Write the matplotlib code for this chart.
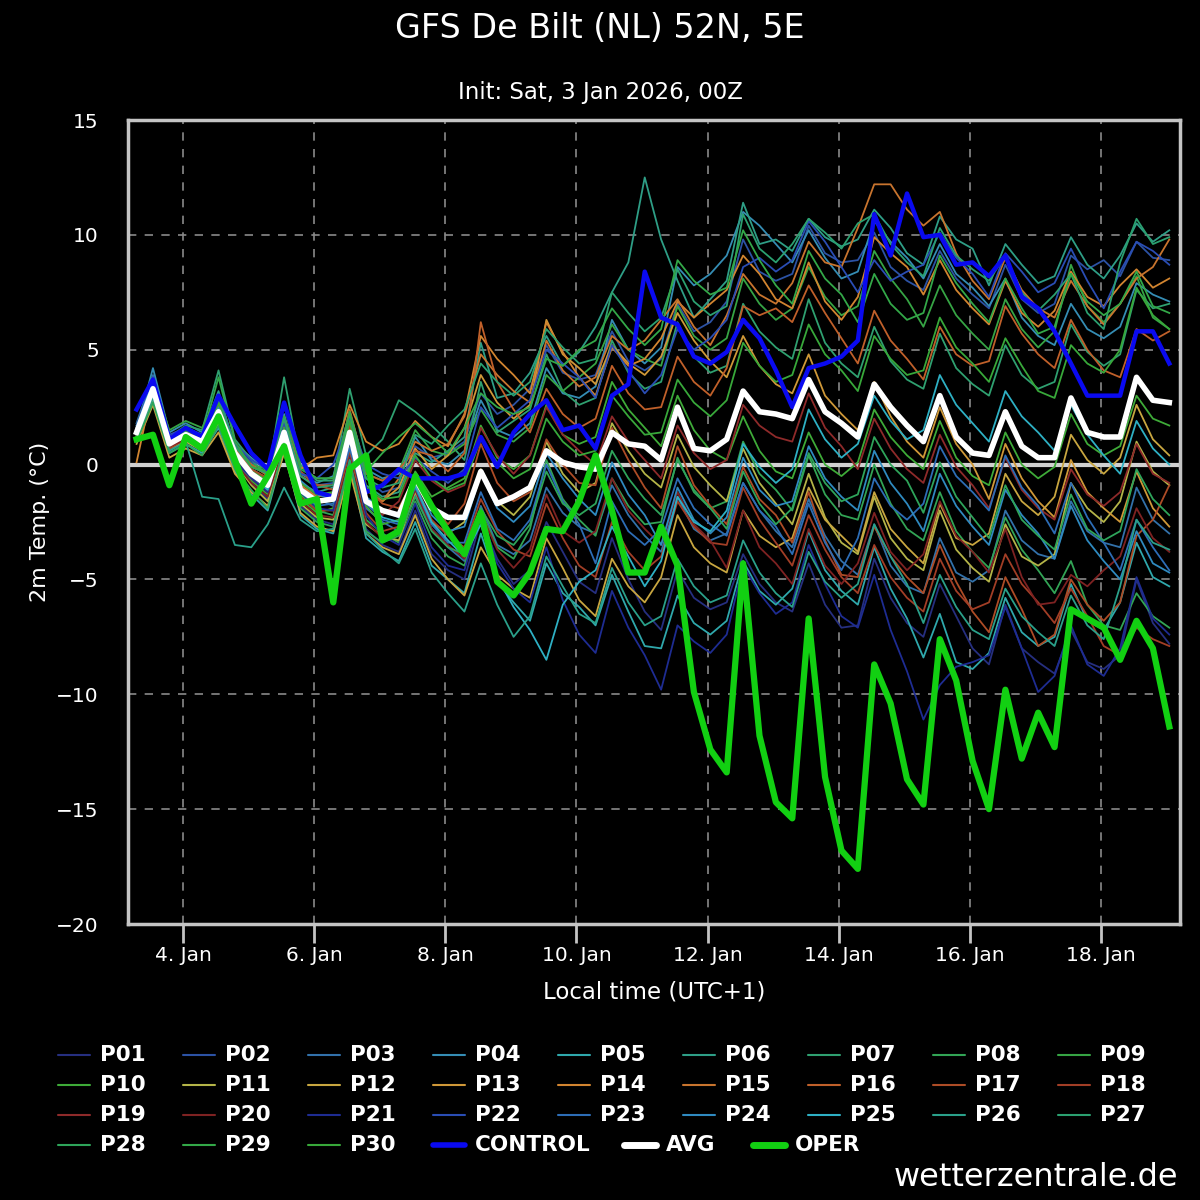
import datetime as dt
import pandas as pd
import matplotlib
matplotlib.use('Agg')
import matplotlib.pyplot as plt
from matplotlib.lines import Line2D
from matplotlib.ticker import FuncFormatter
import matplotlib.dates as mdates

# 6-hourly steps, local time (UTC+1), init Sat 3 Jan 2026 00Z
times = pd.date_range('2026-01-03 07:00', periods=64, freq='6h').to_pydatetime()

avg = [1.4, 3.3, 0.9, 1.3, 1.0, 2.3, 0.5, -0.4, -0.9, 1.4, -1.1, -1.6, -1.5, 1.4, -1.6, -2.0,
       -2.2, -0.6, -1.9, -2.3, -2.3, -0.3, -1.7, -1.4, -1.0, 0.6, 0.1, -0.1, -0.2, 1.4, 0.9, 0.8,
       0.2, 2.5, 0.7, 0.6, 1.1, 3.2, 2.3, 2.2, 2.0, 3.7, 2.3, 1.8, 1.2, 3.5, 2.5, 1.7,
       1.0, 3.0, 1.2, 0.5, 0.4, 2.3, 0.8, 0.3, 0.3, 2.9, 1.4, 1.2, 1.2, 3.8, 2.8, 2.7]

control = [2.4, 3.7, 1.1, 1.6, 1.2, 3.0, 1.7, 0.5, -0.2, 2.7, 0.4, -1.2, -1.4, 1.3, -1.2, -0.9,
           -0.2, -0.6, -0.6, -0.6, -0.4, 1.2, -0.1, 1.4, 2.2, 2.8, 1.5, 1.7, 0.7, 3.0, 3.5, 8.4,
           6.4, 6.1, 4.7, 4.4, 4.9, 6.3, 5.5, 4.1, 2.5, 4.2, 4.4, 4.7, 5.4, 10.9, 9.1, 11.8,
           9.9, 10.0, 8.7, 8.8, 8.2, 9.1, 7.3, 6.8, 5.8, 4.4, 3.0, 3.0, 3.0, 5.8, 5.8, 4.4]

oper = [1.1, 1.3, -0.9, 1.2, 0.7, 2.1, 0.2, -1.7, -0.5, 0.8, -1.7, -1.5, -6.0, -0.2, 0.4, -3.3,
        -2.9, -0.5, -1.8, -2.9, -3.9, -2.1, -5.1, -5.7, -4.7, -2.8, -2.9, -1.6, 0.4, -2.0, -4.7, -4.7,
        -2.7, -4.4, -9.9, -12.4, -13.4, -4.3, -11.8, -14.7, -15.4, -6.7, -13.6, -16.8, -17.6, -8.7, -10.4, -13.7,
        -14.8, -7.6, -9.4, -12.9, -15.0, -9.8, -12.8, -10.8, -12.3, -6.3, -6.7, -7.1, -8.5, -6.8, -8.0, -11.4]

p01 = [1.2, 3.0, 0.6, 1.0, 0.8, 2.0, 0.2, -0.8, -1.5, 0.8, -1.8, -2.4, -2.6, 0.4, -2.8, -3.5,
       -3.8, -2.0, -3.9, -4.6, -5.0, -2.4, -4.1, -5.2, -4.6, -2.5, -3.8, -5.1, -5.6, -3.2, -5.0, -6.4,
       -7.2, -4.6, -5.8, -6.3, -6.0, -3.9, -5.2, -6.0, -6.4, -4.3, -6.1, -7.1, -7.0, -4.1, -5.8, -6.9,
       -7.5, -5.2, -6.6, -8.0, -8.7, -6.1, -8.0, -8.6, -9.1, -7.2, -8.6, -8.9, -8.3, -5.0, -6.9, -7.8]
p02 = [1.6, 3.6, 1.2, 1.5, 1.2, 2.6, 0.8, 0.1, -0.4, 2.0, -0.3, -0.9, -0.8, 1.8, -0.6, -1.2,
       -1.0, 0.8, 0.3, 0.5, 1.0, 3.1, 2.2, 2.6, 3.3, 5.2, 4.0, 3.7, 3.9, 5.8, 4.5, 4.1,
       4.6, 7.0, 5.8, 6.2, 7.1, 9.8, 8.4, 8.0, 8.3, 10.4, 9.2, 8.8, 8.9, 10.1, 8.6, 8.0,
       7.6, 9.3, 8.1, 7.4, 6.8, 8.7, 7.2, 6.6, 7.0, 9.1, 8.5, 8.9, 8.2, 9.7, 9.0, 8.9]
p03 = [1.8, 3.9, 1.0, 1.4, 1.1, 2.1, 0.0, -0.6, -1.1, 1.5, -0.9, -1.5, -1.8, 1.0, -1.9, -2.5,
       -2.9, -1.3, -2.8, -3.6, -4.2, -1.8, -3.5, -3.9, -3.3, -1.0, -2.1, -2.7, -3.0, -0.9, -2.2, -3.1,
       -3.8, -1.4, -2.8, -3.3, -3.0, -0.8, -2.0, -2.9, -3.6, -1.5, -3.1, -4.2, -4.8, -2.6, -4.4, -5.3,
       -5.6, -3.2, -4.7, -5.1, -4.6, -2.0, -3.3, -3.9, -4.1, -1.6, -2.9, -3.4, -3.6, -1.0, -2.4, -3.0]
p04 = [1.5, 4.2, 1.4, 1.8, 1.4, 2.8, 0.9, 0.3, -0.3, 2.2, -0.4, -0.8, -0.5, 2.3, -0.2, -0.6,
       -0.4, 1.2, 0.2, 0.0, 0.6, 2.8, 1.5, 1.2, 1.8, 4.2, 3.1, 2.9, 3.4, 6.3, 5.0, 4.4,
       5.1, 8.6, 7.8, 8.3, 9.1, 11.0, 10.4, 9.6, 8.8, 10.2, 9.0, 8.1, 8.4, 10.6, 9.7, 9.0,
       8.1, 9.6, 8.3, 7.7, 6.9, 8.1, 6.4, 5.6, 5.2, 7.0, 5.9, 5.5, 6.0, 7.9, 7.4, 7.1]
p05 = [1.0, 2.8, 0.5, 0.9, 0.5, 1.6, -0.3, -1.3, -2.0, 0.6, -2.2, -2.8, -3.0, 0.0, -3.2, -3.8,
       -4.2, -2.5, -4.4, -5.0, -5.6, -3.0, -5.1, -6.0, -6.8, -4.3, -5.6, -6.2, -7.0, -4.8, -6.4, -7.9,
       -8.0, -5.7, -6.9, -7.4, -6.8, -4.2, -5.5, -6.1, -5.4, -2.9, -4.6, -5.5, -6.1, -3.6, -5.4, -6.7,
       -8.4, -6.5, -8.6, -8.9, -8.2, -5.8, -7.3, -7.9, -7.5, -5.2, -6.8, -7.2, -6.0, -3.4, -4.9, -5.3]
p06 = [1.3, 3.4, 1.1, 1.6, 1.3, 3.2, 0.7, -0.2, -0.6, 1.9, -0.8, -1.2, -1.0, 2.0, -0.9, -1.4,
       -1.2, 0.5, 0.1, 0.6, 1.2, 5.3, 2.9, 3.1, 4.0, 5.6, 4.3, 4.9, 6.0, 7.5, 8.8, 12.5,
       9.8, 8.0, 6.4, 7.2, 8.0, 11.4, 9.6, 9.8, 9.3, 10.7, 9.9, 9.5, 9.8, 11.1, 10.3, 9.2,
       8.7, 10.8, 9.8, 9.4, 7.8, 9.6, 8.7, 7.9, 8.2, 9.9, 8.7, 8.1, 9.1, 10.5, 9.7, 10.2]
p07 = [1.4, 3.5, 1.2, 1.7, 1.5, 4.1, 1.1, 0.2, -0.5, 3.8, 0.0, -0.7, -0.7, 3.3, 0.4, 1.1,
       2.8, 2.3, 1.7, 1.0, 0.2, 3.6, 1.4, 1.9, 2.4, 4.8, 3.2, 2.6, 2.9, 5.4, 4.0, 3.3,
       3.6, 6.2, 4.7, 4.0, 4.3, 7.0, 5.8, 5.1, 4.6, 7.2, 5.3, 4.4, 3.8, 6.0, 4.5, 3.7,
       3.3, 5.7, 4.2, 3.5, 3.0, 5.2, 3.9, 3.3, 3.6, 6.1, 4.9, 4.3, 4.8, 7.6, 6.8, 7.0]
p08 = [1.1, 3.1, 0.8, 1.1, 0.7, 2.2, 0.3, -0.5, -1.0, 1.2, -1.3, -2.0, -2.2, 0.8, -2.4, -3.0,
       -3.4, -1.6, -3.2, -4.0, -4.4, -2.0, -3.6, -4.1, -2.8, 0.2, -1.5, -2.4, -3.1, -0.6, -1.8, -2.6,
       -2.5, 0.3, -1.2, -1.9, -1.6, 1.0, -0.4, -1.1, -2.0, 0.4, -1.3, -2.2, -2.4, 0.0, -1.7, -2.8,
       -3.3, -1.2, -2.9, -3.8, -4.5, -2.3, -3.7, -4.6, -5.6, -4.2, -6.1, -7.0, -7.2, -5.6, -6.6, -7.1]
p09 = [1.7, 3.7, 1.5, 1.9, 1.6, 3.0, 0.8, 0.0, -0.2, 2.1, -0.1, -0.6, -0.6, 1.9, -0.4, -0.7,
       -0.3, 1.5, 0.6, 0.4, 0.9, 2.4, 1.3, 1.0, 1.6, 3.9, 3.2, 3.8, 4.4, 6.1, 5.0, 4.6,
       4.3, 6.9, 5.6, 5.0, 5.5, 8.1, 7.0, 6.3, 6.8, 8.6, 7.3, 6.5, 6.9, 9.3, 8.1, 7.2,
       6.0, 7.8, 6.5, 5.7, 5.0, 7.2, 5.9, 5.1, 5.8, 8.7, 6.9, 6.2, 7.0, 8.2, 6.4, 5.9]
p10 = [1.2, 3.2, 0.9, 1.3, 0.9, 2.4, 0.4, -0.7, -1.3, 1.1, -1.5, -2.1, -1.9, 0.9, -1.8, -2.6,
       -2.4, -0.3, -1.4, -1.0, -0.6, 1.7, 0.3, -0.2, 0.4, 2.6, 1.3, 0.9, 1.2, 3.6, 2.4, 1.6,
       0.8, 3.0, 1.5, 0.6, 0.2, 2.1, 0.6, -0.3, -0.6, 1.4, 0.0, -0.5, 0.1, 2.4, 1.2, 0.4,
       -0.2, 1.9, 0.3, -0.5, -0.9, 1.4, 0.0, -0.6, -0.1, 2.2, 0.9, 0.4, 0.8, 3.0, 2.0, 1.7]
p11 = [1.0, 2.9, 0.7, 1.0, 0.6, 1.8, 0.1, -0.9, -1.6, 0.9, -1.7, -2.3, -2.4, 0.7, -2.6, -3.1,
       -3.3, -1.2, -2.5, -3.0, -2.5, -0.2, -1.6, -2.2, -1.4, 1.0, -0.4, -1.2, -0.8, 1.8, 0.6, -0.4,
       -1.0, 1.3, -0.1, -0.9, -1.6, 0.7, -0.8, -1.7, -2.6, -0.4, -2.3, -3.4, -3.9, -1.4, -3.2, -4.1,
       -4.6, -2.0, -3.7, -4.5, -5.1, -2.6, -4.0, -4.4, -3.9, -0.8, -1.9, -2.5, -1.6, 1.0, -0.3, -0.9]
p12 = [0.9, 2.6, 0.3, 0.7, 0.4, 1.4, -0.4, -1.2, -1.8, 0.5, -2.1, -2.7, -2.9, -0.3, -3.0, -3.6,
       -3.9, -2.2, -4.1, -5.0, -5.7, -3.6, -4.8, -5.4, -5.8, -3.2, -4.5, -5.9, -6.6, -4.1, -5.3, -6.0,
       -4.9, -2.2, -3.6, -4.3, -4.7, -2.0, -3.1, -3.6, -3.2, -1.0, -2.4, -3.1, -3.8, -1.2, -2.8, -3.6,
       -4.3, -1.7, -3.2, -3.5, -3.0, -0.4, -1.6, -2.2, -1.4, 1.3, 0.2, -0.4, 0.3, 2.6, 1.1, 0.4]
p13 = [1.3, 3.3, 0.9, 1.2, 0.9, 2.2, 0.4, -0.3, -0.7, 1.6, -0.9, -1.4, -1.2, 1.7, -1.1, -1.6,
       -1.0, 0.7, -0.2, 0.4, 1.6, 3.9, 2.7, 2.0, 2.6, 6.3, 4.8, 4.2, 3.5, 5.2, 4.4, 3.9,
       4.7, 6.6, 5.4, 4.5, 3.8, 5.6, 4.3, 3.5, 3.1, 4.8, 3.0, 2.2, 1.5, 3.6, 2.1, 1.0,
       0.3, 2.5, 0.9, 0.0, -1.5, 0.9, -0.6, -1.6, -2.3, 0.2, -1.2, -1.9, -2.5, -0.3, -1.9, -2.7]
p14 = [0.1, 3.4, 1.0, 1.4, 1.1, 2.7, 0.6, -0.1, -0.4, 1.8, -0.2, 0.3, 0.4, 2.6, 1.0, 0.6,
       0.9, 1.9, 1.2, 0.8, 2.2, 5.6, 4.6, 3.9, 3.1, 6.2, 4.9, 3.8, 3.0, 5.1, 4.3, 4.6,
       5.5, 7.1, 6.4, 7.0, 7.6, 9.1, 8.3, 7.2, 6.8, 8.8, 7.1, 6.3, 7.3, 9.9, 9.2, 8.6,
       7.4, 8.9, 7.6, 6.8, 6.1, 8.0, 6.6, 6.0, 6.7, 8.4, 7.3, 6.9, 7.8, 8.5, 7.7, 8.1]
p15 = [1.2, 3.1, 0.9, 1.2, 0.9, 2.3, 0.5, -0.3, -0.8, 1.5, -0.9, -1.4, -1.3, 1.4, -1.1, -1.6,
       -0.6, 1.0, 0.6, 0.9, 2.1, 4.8, 3.9, 3.2, 2.7, 5.4, 4.1, 3.4, 3.8, 5.6, 5.0, 5.4,
       6.3, 7.2, 6.0, 5.2, 6.5, 8.3, 7.4, 7.0, 7.9, 9.7, 8.8, 8.6, 10.3, 12.2, 12.2, 11.1,
       10.4, 11.0, 9.2, 8.0, 7.2, 9.0, 7.6, 6.8, 6.4, 8.0, 6.9, 6.1, 7.0, 8.1, 8.6, 9.8]
p16 = [1.5, 3.6, 1.2, 1.5, 1.2, 2.5, 0.7, 0.0, -0.5, 1.9, -0.5, -0.9, -0.9, 2.4, -0.4, -0.7,
       -0.2, 0.6, 0.4, -0.3, 0.5, 6.2, 3.6, 2.4, 1.4, 3.3, 2.2, 1.6, 2.0, 4.3, 3.1, 2.4,
       2.5, 4.7, 3.6, 3.0, 4.2, 6.9, 6.5, 6.8, 6.2, 7.8, 6.6, 5.5, 4.4, 6.7, 5.4, 4.6,
       3.7, 6.0, 4.8, 4.3, 4.5, 6.9, 5.7, 4.8, 4.2, 6.3, 5.0, 4.1, 3.8, 5.9, 5.4, 5.8]
p17 = [1.6, 3.5, 1.1, 1.4, 1.2, 2.6, 0.6, -0.2, -0.6, 2.7, -0.3, -0.9, -1.1, 1.7, -1.0, -1.7,
       -1.9, -0.5, -1.8, -2.6, -1.7, 0.9, -0.8, -1.6, -1.2, 1.1, 0.0, -0.8, -0.9, 1.6, 0.2, -1.0,
       -1.9, 0.8, -0.9, -1.8, -2.6, -0.1, -1.5, -2.2, -3.4, -1.2, -3.3, -4.8, -4.9, -2.7, -4.0, -4.9,
       -5.6, -3.5, -5.1, -6.4, -7.3, -4.9, -6.3, -7.9, -7.4, -5.0, -6.1, -6.8, -6.0, -3.1, -2.4, -0.9]
p18 = [1.1, 3.0, 0.7, 1.1, 0.7, 2.1, 0.2, -0.6, -1.2, 1.0, -1.4, -2.0, -2.0, 0.6, -2.1, -2.9,
       -2.7, -0.9, -2.4, -3.1, -3.6, -1.5, -2.9, -3.7, -4.0, -1.7, -3.2, -4.4, -4.9, -2.5, -3.8, -4.6,
       -4.0, -1.6, -2.7, -3.4, -3.5, -1.0, -2.4, -3.4, -4.4, -2.2, -3.7, -4.9, -5.6, -3.5, -4.9, -5.8,
       -6.4, -4.1, -5.5, -6.3, -6.0, -3.9, -5.2, -6.0, -6.9, -5.4, -6.6, -7.9, -8.3, -7.1, -7.6, -7.9]
p19 = [1.3, 3.2, 0.8, 1.2, 0.8, 2.4, 0.3, -0.4, -0.8, 1.3, -0.8, -1.3, -1.4, 1.2, -1.5, -2.2,
       -1.6, 0.2, -0.7, -1.2, -0.9, 1.6, 0.4, -0.4, 0.4, 2.5, 1.3, 0.6, 0.0, 2.1, 1.0, 0.2,
       -0.6, 1.7, 0.5, -0.2, 0.2, 2.6, 1.7, 1.2, 1.0, 3.1, 1.6, 0.8, -0.2, 2.0, 0.7, -0.2,
       -0.8, 1.3, -0.1, -0.9, -1.9, 0.3, -1.1, -1.9, -2.4, -0.2, -1.3, -1.8, -1.2, 0.9, -0.4, -0.8]
p20 = [1.2, 3.1, 0.8, 1.1, 0.8, 2.0, 0.1, -0.8, -1.4, 0.9, -1.6, -2.2, -2.3, 0.3, -2.5, -3.2,
       -3.0, -1.1, -2.8, -3.5, -4.1, -2.1, -3.7, -4.5, -3.7, -1.3, -2.9, -3.4, -2.9, -0.6, -2.0, -2.8,
       -3.5, -1.2, -2.6, -3.3, -4.5, -2.0, -3.6, -4.3, -5.2, -2.8, -4.4, -5.2, -4.3, -2.1, -3.8, -4.6,
       -3.9, -1.6, -3.1, -3.8, -4.7, -2.8, -4.9, -6.1, -6.0, -4.8, -5.3, -4.6, -4.0, -1.9, -3.2, -3.8]
p21 = [1.4, 3.4, 1.0, 1.3, 0.9, 2.1, 0.2, -0.6, -1.2, 1.3, -1.2, -1.9, -2.0, 1.0, -2.2, -3.1,
       -3.5, -1.7, -3.6, -4.4, -4.6, -2.1, -4.3, -5.4, -6.0, -3.6, -5.9, -7.4, -8.2, -5.5, -7.1, -8.3,
       -9.8, -7.0, -7.7, -8.2, -7.4, -4.4, -5.6, -6.5, -6.0, -3.5, -5.2, -6.6, -7.1, -4.8, -7.2, -9.0,
       -11.1, -9.6, -8.8, -8.6, -8.3, -6.2, -8.0, -9.9, -9.2, -7.0, -8.7, -9.2, -8.0, -4.9, -6.7, -7.4]
p22 = [1.7, 3.8, 1.3, 1.6, 1.3, 2.9, 0.9, 0.2, -0.2, 1.8, -0.4, -0.6, 0.0, 2.0, 0.0, -0.4,
       -0.6, 0.3, -0.3, -0.8, -0.2, 2.5, 1.6, 2.2, 2.8, 5.0, 4.4, 3.8, 2.9, 5.2, 4.1, 3.1,
       3.9, 5.9, 5.0, 5.5, 6.3, 8.6, 9.0, 8.4, 8.9, 10.6, 9.7, 8.6, 7.5, 8.9, 8.0, 8.4,
       8.7, 10.1, 9.0, 8.3, 7.3, 9.2, 8.4, 7.5, 7.9, 9.4, 8.0, 6.8, 8.4, 9.7, 9.3, 8.7]
p23 = [1.5, 3.5, 1.0, 1.3, 1.0, 2.4, 0.4, -0.5, -1.0, 1.1, -1.2, -1.8, -1.7, 0.7, -1.7, -2.4,
       -2.6, -1.0, -2.6, -3.4, -3.4, -1.2, -2.8, -3.3, -2.4, 0.0, -1.6, -2.6, -4.3, -1.6, -2.9, -3.5,
       -2.8, -0.6, -1.9, -2.6, -3.1, -0.8, -2.0, -2.7, -3.9, -1.7, -3.4, -4.6, -3.2, -0.6, -1.8, -2.4,
       -1.7, 0.8, -0.5, -1.2, -2.0, 0.4, -1.0, -1.8, -3.0, -0.8, -2.3, -3.4, -4.6, -2.4, -3.6, -4.6]
p24 = [1.6, 3.7, 1.1, 1.5, 1.2, 2.5, 0.5, -0.3, -0.9, 1.5, -0.7, -1.3, -1.5, 1.3, -1.4, -2.0,
       -2.3, -0.6, -2.2, -2.9, -2.7, -0.4, -1.9, -2.5, -1.8, 0.5, -0.6, -1.5, -2.2, 0.1, -1.3, -2.2,
       -3.5, -1.0, -2.4, -3.0, -2.3, 0.3, -1.1, -1.8, -1.6, 0.8, -0.6, -1.4, -2.0, 0.6, -0.8, -1.7,
       -2.9, -0.4, -1.8, -2.7, -3.5, -1.1, -2.2, -3.0, -4.1, -1.8, -3.3, -4.2, -5.0, -2.9, -4.3, -4.7]
p25 = [1.3, 3.6, 1.0, 1.4, 1.0, 2.3, 0.4, -0.4, -1.1, 1.2, -1.0, -1.6, -1.6, 1.1, -1.6, -2.3,
       -2.5, -0.9, -2.5, -3.3, -4.0, -2.6, -4.9, -6.2, -7.2, -8.5, -6.1, -5.1, -4.6, -2.7, -4.0, -5.3,
       -4.2, -1.4, -2.5, -2.9, -2.0, 0.9, -0.1, -0.8, -0.2, 2.4, 1.1, 0.3, 0.9, 3.0, 1.9, 1.1,
       1.5, 3.9, 2.6, 1.8, 1.0, 3.2, 2.1, 1.4, 0.6, 2.6, 1.3, 0.4, -0.4, 1.9, 0.7, 0.0]
p26 = [1.1, 2.9, 0.6, 1.0, -1.4, -1.5, -3.5, -3.6, -2.6, -1.0, -2.4, -2.9, -2.8, 0.2, -3.0, -3.7,
       -4.3, -2.8, -4.7, -5.6, -6.4, -4.3, -6.1, -7.5, -6.6, -4.0, -5.3, -6.5, -6.9, -4.5, -6.0, -7.0,
       -6.6, -4.1, -5.3, -6.0, -5.7, -3.3, -4.7, -5.6, -6.2, -3.8, -5.1, -5.8, -5.2, -2.6, -4.0, -5.2,
       -6.9, -4.8, -6.2, -7.2, -7.6, -5.4, -6.6, -7.3, -7.9, -5.7, -7.0, -7.6, -5.3, -2.4, -3.4, -3.7]
p27 = [1.4, 3.3, 1.0, 1.5, 1.2, 2.9, 0.8, -0.1, -0.4, 2.0, -0.5, -1.0, -0.9, 2.2, -0.6, -1.0,
       -0.8, 1.3, 0.9, 1.7, 2.4, 4.4, 3.6, 3.0, 3.6, 5.9, 5.1, 4.4, 4.6, 7.5, 6.6, 5.8,
       6.4, 8.5, 7.1, 6.5, 6.9, 10.9, 9.4, 8.8, 9.6, 10.7, 10.1, 9.4, 10.5, 10.9, 9.6, 8.8,
       8.2, 10.3, 9.1, 8.5, 8.0, 9.1, 7.5, 6.7, 7.4, 8.3, 6.6, 5.9, 8.8, 10.7, 9.6, 9.9]
p28 = [1.0, 2.7, 0.5, 0.9, 0.4, 1.7, -0.2, -1.1, -1.9, 0.8, -1.9, -2.5, -2.7, 0.1, -2.9, -3.4,
       -3.1, -1.4, -2.9, -3.6, -3.9, -1.9, -3.1, -3.5, -2.6, -0.3, -1.7, -2.2, -1.7, 0.6, -0.6, -1.5,
       -2.2, 0.2, -1.1, -1.9, -2.8, -0.3, -1.7, -2.6, -1.9, 0.5, -0.8, -1.6, -1.3, 1.2, 0.0, -0.7,
       -2.1, 0.1, -1.4, -2.3, -3.2, -0.9, -2.4, -3.1, -3.7, -1.3, -2.8, -3.3, -2.9, -0.2, -1.5, -2.2]
p29 = [1.5, 3.4, 1.1, 1.5, 1.2, 3.8, 1.0, -0.1, -0.3, 2.6, -0.2, -0.6, -0.6, 2.3, -0.3, 0.5,
       1.2, 1.8, 1.2, 0.5, 1.6, 3.1, 2.5, 2.2, 2.5, 4.6, 4.3, 5.0, 5.4, 6.8, 5.9, 5.2,
       5.9, 8.9, 8.0, 7.4, 7.7, 10.2, 8.9, 7.8, 7.0, 9.3, 8.1, 7.4, 6.2, 8.3, 7.0, 6.3,
       6.6, 9.1, 7.9, 7.0, 6.2, 8.1, 6.8, 5.7, 6.0, 8.3, 7.1, 6.5, 7.0, 8.4, 6.9, 6.6]
p30 = [1.2, 3.3, 0.9, 1.2, 0.9, 2.7, 0.5, -0.3, -0.7, 1.6, -0.8, -1.3, -1.2, 1.9, -1.0, -1.5,
       -1.4, 0.4, -0.6, -1.1, -0.8, 1.1, 0.1, -0.6, -0.2, 2.0, 1.0, 0.4, 0.6, 3.0, 2.1, 1.3,
       1.4, 3.7, 2.7, 2.1, 2.8, 5.3, 4.3, 3.6, 3.9, 6.1, 4.8, 4.1, 3.2, 5.6, 4.6, 3.9,
       4.1, 6.4, 5.1, 4.4, 3.6, 5.5, 4.3, 3.2, 2.9, 5.2, 4.4, 4.0, 5.0, 7.7, 6.5, 5.9]

members = [p01, p02, p03, p04, p05, p06, p07, p08, p09, p10,
           p11, p12, p13, p14, p15, p16, p17, p18, p19, p20,
           p21, p22, p23, p24, p25, p26, p27, p28, p29, p30]
member_names = ['P%02d' % (k + 1) for k in range(30)]
member_colors = ['#262f80', '#2c52a4', '#3271aa', '#358db4', '#2fa8ac', '#2e9e86', '#2fa070', '#32a455', '#36a444', '#3eaa38',
                 '#b4b448', '#c8a640', '#cf9838', '#d28530', '#c8742e', '#c0602a', '#ad4c26', '#a23e26', '#8e2a2a', '#7e2222',
                 '#1e2c92', '#2a4db4', '#2d6db6', '#2f8ac0', '#2eb0c4', '#2aa08a', '#2ba070', '#2ea45a', '#33a848', '#38a83a']

ctrl_color = '#0a0af0'
avg_color = '#ffffff'
oper_color = '#12d012'

fig = plt.figure(figsize=(12, 12), dpi=100, facecolor='black')
ax = fig.add_axes([128 / 1200, 1 - 924 / 1200, 1052 / 1200, 804 / 1200])
ax.set_facecolor('black')

ax.axhline(0, color='#d0d0d0', lw=3, zorder=2)
for vals, col in zip(members, member_colors):
    ax.plot(times, vals, color=col, lw=1.3, zorder=3)
ax.plot(times, control, color=ctrl_color, lw=3.2, zorder=4)
ax.plot(times, avg, color=avg_color, lw=4, zorder=5)
ax.plot(times, oper, color=oper_color, lw=4.5, zorder=6)

ax.set_ylim(-20, 15)
ax.set_xlim(dt.datetime(2026, 1, 3, 3, 52), dt.datetime(2026, 1, 19, 4, 55))
ax.set_yticks(range(-20, 16, 5))
ax.set_xticks([dt.datetime(2026, 1, d) for d in range(4, 19, 2)])
ax.xaxis.set_major_formatter(FuncFormatter(lambda v, p: '%d. Jan' % mdates.num2date(v).day))

ax.grid(True, color='#8a8a8a', ls=(0, (5, 5)), lw=1.2)
ax.set_axisbelow(True)
for s in ax.spines.values():
    s.set_color('#c4c4c4')
    s.set_linewidth(2.5)

ax.tick_params(axis='y', length=0, pad=21, labelsize=14.5, labelcolor='white')
ax.tick_params(axis='x', length=14, width=2, color='#c4c4c4', pad=2, labelsize=14.5, labelcolor='white')

fig.text(0.5, 1 - 28 / 1200, 'GFS De Bilt (NL) 52N, 5E', ha='center', va='center', fontsize=24, color='white')
fig.text(0.5, 1 - 92 / 1200, 'Init: Sat, 3 Jan 2026, 00Z', ha='center', va='center', fontsize=16.5, color='white')
fig.text(40 / 1200, 1 - 522 / 1200, '2m Temp. (°C)', rotation=90, ha='center', va='center', fontsize=16, color='white')
fig.text(654 / 1200, 1 - 992 / 1200, 'Local time (UTC+1)', ha='center', va='center', fontsize=16.5, color='white')
fig.text(1178 / 1200, 1 - 1178 / 1200, 'wetterzentrale.de', ha='right', va='center', fontsize=23, color='white')

# hand-made legend, 9 columns
def legend_entry(x0, y0, label, color, lw):
    fig.add_artist(Line2D([x0 / 1200, (x0 + 32) / 1200], [1 - y0 / 1200, 1 - y0 / 1200],
                          color=color, lw=lw, solid_capstyle='round'))
    fig.text((x0 + 42) / 1200, 1 - y0 / 1200, label, ha='left', va='center',
             fontsize=15.5, fontweight='bold', color='white')

for k, (name, col) in enumerate(zip(member_names, member_colors)):
    legend_entry(58 + 125 * (k % 9), 1055 + 30 * (k // 9), name, col, 1.5)
legend_entry(433, 1145, 'CONTROL', ctrl_color, 4)
legend_entry(624, 1145, 'AVG', avg_color, 5)
legend_entry(753, 1145, 'OPER', oper_color, 5)

fig.savefig('out.png', dpi=100, facecolor='black')
